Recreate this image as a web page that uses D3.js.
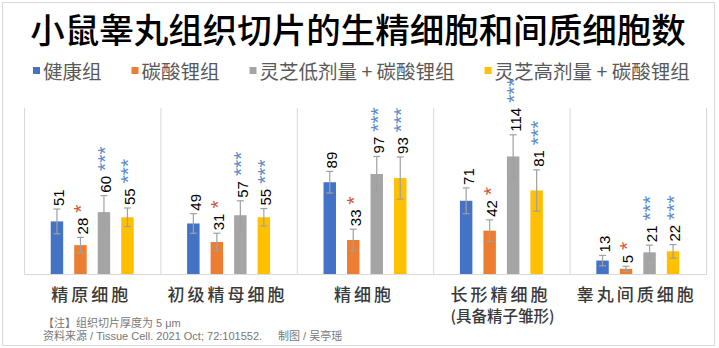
<!DOCTYPE html>
<html>
<head>
<meta charset="utf-8">
<script src="https://cdn.jsdelivr.net/npm/d3@7"></script>
<style>
  html, body { margin: 0; padding: 0; background: #fff; }
  svg { display: block; }
</style>
</head>
<body>
<svg id="chart" width="719" height="348"></svg>
<script>
// Cell counts per testis section (mean ± error) for four treatment groups
const categories = ["精原细胞", "初级精母细胞", "精细胞", "长形精细胞", "睾丸间质细胞"];
const seriesNames = ["健康组", "碳酸锂组", "灵芝低剂量 + 碳酸锂组", "灵芝高剂量 + 碳酸锂组"];
const seriesColors = ["#4472C4", "#ED7D31", "#A5A5A5", "#FFC000"];

const healthy  = [51, 49, 89, 71, 13];
const lithium  = [28, 31, 33, 42, 5];
const lowDose  = [60, 57, 97, 114, 21];
const highDose = [55, 55, 93, 81, 22];

const healthyErr  = [12, 9.5, 10.5, 12.5, 5];
const lithiumErr  = [7.5, 8.5, 10.5, 10.5, 2.5];
const lowDoseErr  = [16, 14, 17, 21, 7];
const highDoseErr = [9, 8.5, 20.5, 20, 6.5];

// significance markers per series
const seriesMarks = ["", "*", "***", "***"];
const markColors = ["#000", "#D4573A", "#5B8CC8", "#5B8CC8"];

const values = [healthy, lithium, lowDose, highDose];
const errors = [healthyErr, lithiumErr, lowDoseErr, highDoseErr];

const svg = d3.select("#chart");

// outer frame
svg.append("rect")
  .attr("x", 2.5).attr("y", 2.5)
  .attr("width", 712).attr("height", 343)
  .attr("fill", "#fff")
  .attr("stroke", "#d9d9d9").attr("stroke-width", 1);

// title
svg.append("text")
  .attr("x", 358).attr("y", 28)
  .attr("text-anchor", "middle")
  .attr("dominant-baseline", "central")
  .style("font-family", "'Noto Sans CJK SC', sans-serif")
  .style("font-size", "34.5px")
  .style("font-weight", 500)
  .attr("fill", "#000")
  .text("小鼠睾丸组织切片的生精细胞和间质细胞数");

// legend
const legend = svg.append("g");
let lx = 33;
seriesNames.forEach((name, i) => {
  const g = legend.append("g").attr("transform", `translate(${lx},0)`);
  g.append("rect")
    .attr("x", 0).attr("y", 67)
    .attr("width", 7).attr("height", 7)
    .attr("fill", seriesColors[i]);
  const t = g.append("text")
    .attr("x", 10).attr("y", 70)
    .attr("dominant-baseline", "central")
    .style("font-family", "'Noto Sans CJK SC', sans-serif")
    .style("font-size", "19.5px")
    .attr("fill", "#595959")
    .text(name);
  lx += 10 + t.node().getComputedTextLength() + 30;
});

// scales
const plotLeft = 24, plotRight = 706, baseY = 274, topY = 108;
const x0 = d3.scaleBand().domain(categories).range([plotLeft, plotRight]).padding(0);
const x1 = d3.scaleBand().domain(d3.range(4)).range([-47, 47])
  .paddingInner(0.47).paddingOuter(0.235);
const y = d3.scaleLinear().domain([0, 160]).range([baseY, 109]);

// category separators
const bounds = categories.map(c => x0(c)).concat([plotRight]);
svg.append("g").selectAll("line").data(bounds).join("line")
  .attr("x1", d => d + 0.5).attr("x2", d => d + 0.5)
  .attr("y1", topY).attr("y2", baseY)
  .attr("stroke", "#d9d9d9").attr("stroke-width", 1);

// baseline
svg.append("line")
  .attr("x1", plotLeft).attr("x2", plotRight + 1)
  .attr("y1", baseY + 0.5).attr("y2", baseY + 0.5)
  .attr("stroke", "#d9d9d9").attr("stroke-width", 1);

// flatten into records
const records = [];
categories.forEach((c, ci) => {
  values.forEach((arr, si) => {
    records.push({ cat: c, s: si, v: arr[ci], e: errors[si][ci] });
  });
});
const cx = d => x0(d.cat) + x0.bandwidth() / 2 + x1(d.s) + x1.bandwidth() / 2;

// bars
svg.append("g").selectAll("rect").data(records).join("rect")
  .attr("x", d => cx(d) - x1.bandwidth() / 2)
  .attr("y", d => y(d.v))
  .attr("width", x1.bandwidth())
  .attr("height", d => baseY - y(d.v))
  .attr("fill", d => seriesColors[d.s]);

// error bars
const eg = svg.append("g")
  .attr("stroke", "#A0A0A0").attr("stroke-width", 1.2).attr("fill", "none");
records.forEach(d => {
  const x = cx(d);
  const lo = y(Math.max(0, d.v - d.e)), hi = y(d.v + d.e);
  eg.append("line").attr("x1", x).attr("x2", x).attr("y1", lo).attr("y2", hi);
  eg.append("line").attr("x1", x - 3.5).attr("x2", x + 3.5).attr("y1", hi).attr("y2", hi);
  eg.append("line").attr("x1", x - 3.5).attr("x2", x + 3.5).attr("y1", lo).attr("y2", lo);
});

// value labels, rotated, with significance markers
records.forEach(d => {
  const x = cx(d);
  const top = y(d.v + d.e);
  const t = svg.append("text")
    .attr("transform", `translate(${x + 7.4},${top - 3}) rotate(-90)`)
    .style("font-family", "'Liberation Sans', Arial, sans-serif")
    .style("font-size", "15px")
    .attr("fill", "#000");
  t.append("tspan").text(d.v);
  if (seriesMarks[d.s]) {
    t.append("tspan")
      .attr("dx", 5).attr("dy", 0.5)
      .style("font-size", "21px")
      .attr("fill", markColors[d.s])
      .text(seriesMarks[d.s]);
  }
});

// category labels
svg.append("g").selectAll("text").data(categories).join("text")
  .attr("x", d => x0(d) + x0.bandwidth() / 2 - 1)
  .attr("y", 293)
  .attr("text-anchor", "middle")
  .attr("dominant-baseline", "central")
  .style("font-family", "'Noto Sans CJK SC', sans-serif")
  .style("font-size", "17px")
  .style("font-weight", 500)
  .style("letter-spacing", "3px")
  .attr("fill", "#3a3a3a")
  .text(d => d);

// sub-label under the elongated spermatid category
svg.append("text")
  .attr("x", x0("长形精细胞") + x0.bandwidth() / 2 + 1)
  .attr("y", 315)
  .attr("text-anchor", "middle")
  .attr("dominant-baseline", "central")
  .style("font-family", "'Noto Sans CJK SC', sans-serif")
  .style("font-size", "15.5px")
  .style("font-weight", 500)
  .attr("fill", "#3a3a3a")
  .text("(具备精子雏形)");

// notes
const notes = svg.append("g")
  .style("font-family", "'Liberation Sans', 'Noto Sans CJK SC', sans-serif")
  .style("font-size", "11px")
  .attr("fill", "#777");
notes.append("text").attr("x", 43).attr("y", 323)
  .attr("dominant-baseline", "central")
  .text("【注】组织切片厚度为 5 μm");
notes.append("text").attr("x", 43).attr("y", 336)
  .attr("dominant-baseline", "central")
  .text("资料来源 / Tissue Cell. 2021 Oct; 72:101552.");
notes.append("text").attr("x", 278).attr("y", 336)
  .attr("dominant-baseline", "central")
  .text("制图 / 吴亭瑶");
</script>
</body>
</html>
